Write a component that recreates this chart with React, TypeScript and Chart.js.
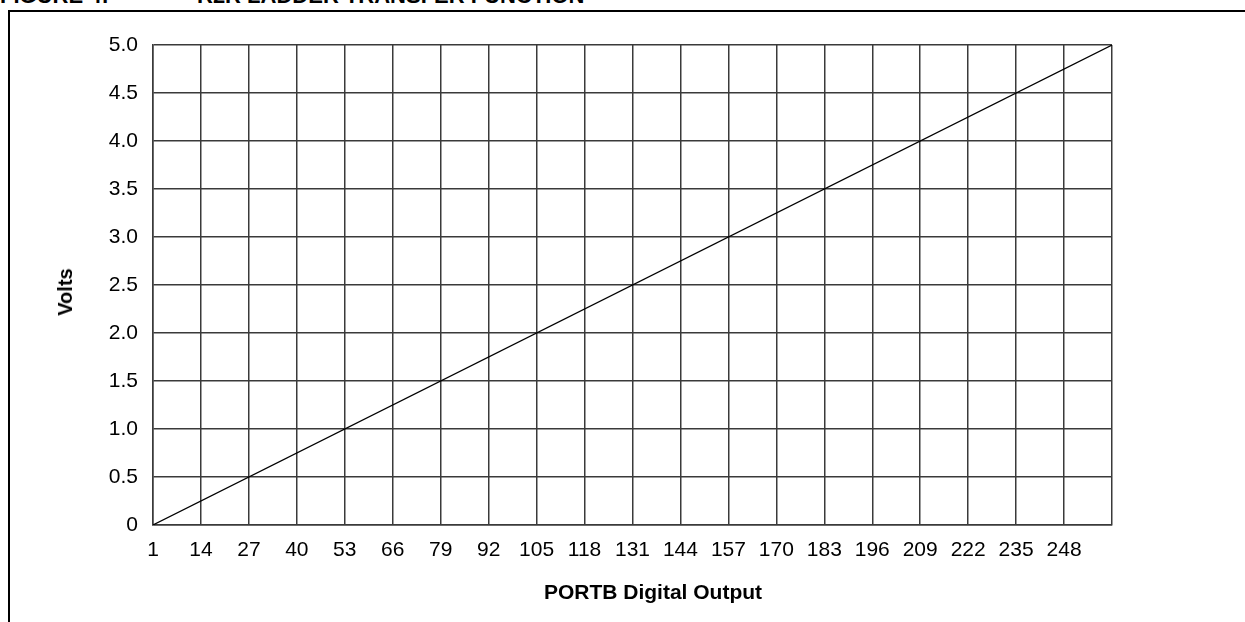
import React, { useEffect, useRef } from "react";
import { Chart, registerables } from "chart.js";

Chart.register(...registerables);

// Data
const portbCodes = [1, 261];
const voltsOut = [0, 5.0];
const xTickStart = 1;
const xTickStep = 13;
const xTickEnd = 261;
const yTickStep = 0.5;
const yMax = 5.0;

const titleText1 = "FIGURE 4:";
const titleText2 = "R2R LADDER TRANSFER FUNCTION";
const xTitle = "PORTB Digital Output";
const yTitle = "Volts";

const FONT = "Arial, 'Liberation Sans'";

export default function App() {
  const ref = useRef<HTMLCanvasElement | null>(null);

  useEffect(() => {
    document.body.style.margin = "0";
    const ctx = ref.current;
    if (!ctx) return;
    const chart = new Chart(ctx, {
      type: "scatter",
      data: {
        datasets: [
          {
            data: portbCodes.map((x, i) => ({ x, y: voltsOut[i] })),
            showLine: true,
            borderColor: "#000",
            borderWidth: 1.2,
            pointRadius: 0,
            fill: false,
          },
        ],
      },
      options: {
        animation: false,
        responsive: false,
        devicePixelRatio: 1,
        layout: { padding: { left: 0, right: 133, top: 45, bottom: 0 } },
        plugins: { legend: { display: false }, tooltip: { enabled: false } },
        scales: {
          x: {
            type: "linear",
            min: xTickStart,
            max: xTickEnd,
            afterFit: (s: any) => {
              s.height = 97;
            },
            ticks: {
              stepSize: xTickStep,
              autoSkip: false,
              maxRotation: 0,
              color: "#000",
              padding: 13,
              font: { family: FONT, size: 21 },
              callback: (v: any) => (v >= xTickEnd ? "" : String(v)),
            },
            grid: { color: "#3a3a3a", lineWidth: 1.5, drawTicks: false },
            border: { color: "#3a3a3a", width: 1.5 },
            title: { display: false },
          },
          y: {
            type: "linear",
            min: 0,
            max: yMax,
            afterFit: (s: any) => {
              s.width = 153;
            },
            ticks: {
              stepSize: yTickStep,
              color: "#000",
              padding: 15,
              font: { family: FONT, size: 21 },
              callback: (v: any) => (v === 0 ? "0" : Number(v).toFixed(1)),
            },
            grid: { color: "#3a3a3a", lineWidth: 1.5, drawTicks: false },
            border: { color: "#3a3a3a", width: 1.5 },
            title: { display: false },
          },
        },
      },
    });
    return () => chart.destroy();
  }, []);

  return (
    <div
      style={{
        position: "fixed",
        left: 0,
        top: 0,
        width: 1245,
        height: 622,
        overflow: "hidden",
        background: "#fff",
      }}
    >
      <div
        style={{
          position: "absolute",
          top: -15,
          left: 0,
          fontFamily: FONT,
          fontWeight: "bold",
          fontSize: 22,
          lineHeight: "22px",
          whiteSpace: "nowrap",
        }}
      >
        <span style={{ position: "absolute", left: 0 }}>{titleText1}</span>
        <span style={{ position: "absolute", left: 197 }}>{titleText2}</span>
      </div>
      <div
        style={{
          position: "absolute",
          left: 8,
          top: 10,
          width: 1400,
          height: 800,
          borderLeft: "2.5px solid #000",
          borderTop: "2.5px solid #000",
        }}
      />
      <canvas
        ref={ref}
        width={1245}
        height={622}
        style={{ position: "absolute", left: 0, top: 0, width: 1245, height: 622 }}
      />
      <div
        style={{
          position: "absolute",
          left: 653,
          top: 592,
          transform: "translate(-50%, -50%)",
          fontFamily: FONT,
          fontWeight: "bold",
          fontSize: 21,
          lineHeight: "24px",
          whiteSpace: "nowrap",
          color: "#000",
        }}
      >
        {xTitle}
      </div>
      <div
        style={{
          position: "absolute",
          left: 65,
          top: 292,
          transform: "translate(-50%, -50%) rotate(-90deg)",
          fontFamily: FONT,
          fontWeight: "bold",
          fontSize: 20,
          lineHeight: "22px",
          whiteSpace: "nowrap",
          color: "#000",
        }}
      >
        {yTitle}
      </div>
    </div>
  );
}
